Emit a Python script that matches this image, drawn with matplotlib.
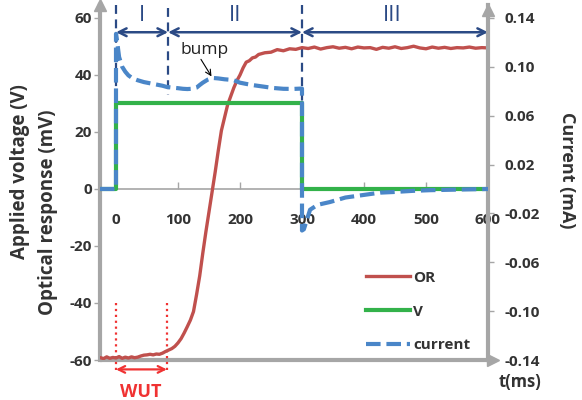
import numpy as np
import matplotlib.pyplot as plt

plt.rcParams['font.family'] = ['Open Sans', 'DejaVu Sans']

# optical response (mV)
t_or = [-25, -20, -15, -10, -5, 0, 5, 10, 15, 20, 25, 30, 35, 40, 45, 50, 55, 60, 65, 70,
        75, 80, 85, 90, 95, 100, 105, 110, 115, 120, 125, 130, 135, 140, 145, 150, 155, 160,
        165, 170, 175, 180, 185, 190, 195, 200, 205, 210, 215, 220, 225, 230, 240, 250, 260,
        270, 280, 290, 300, 310, 320, 330, 340, 350, 360, 370, 380, 390, 400, 410, 420, 430,
        440, 450, 460, 470, 480, 490, 500, 510, 520, 530, 540, 550, 560, 570, 580, 590, 600]
or_mv = [-59.2, -59.5, -58.9, -59.4, -59.1, -59.3, -58.8, -59.4, -59.0, -59.3, -58.9, -59.2,
         -59.0, -58.6, -58.3, -58.2, -58.0, -58.2, -57.9, -58.0, -57.6, -57.0, -56.5, -56.0,
         -55.2, -54.0, -52.5, -50.5, -48.3, -46.0, -43.0, -37.0, -30.5, -22.5, -15.0, -8.0,
         -1.0, 6.0, 13.5, 20.5, 25.0, 29.5, 32.5, 35.5, 38.0, 40.0, 42.5, 44.5, 45.0, 46.0,
         46.3, 47.2, 47.8, 48.0, 48.9, 48.5, 49.2, 49.0, 49.6, 49.3, 49.8, 49.1, 49.6, 49.9,
         49.4, 49.7, 49.2, 49.8, 49.5, 49.6, 49.0, 49.7, 49.4, 49.9, 49.3, 49.6, 50.1, 49.5,
         49.2, 49.8, 49.4, 49.7, 49.3, 49.6, 49.5, 49.8, 49.4, 49.6, 49.5]

# applied voltage (V)
t_v = [-26, 0, 0, 300, 300, 600]
volt = [0, 0, 30, 30, 0, 0]

# current (mA)
t_i = [-26, 0, 0, 2, 5, 10, 15, 20, 27, 35, 45, 55, 65, 75, 82, 90, 100, 108, 115, 122,
       130, 135, 140, 148, 156, 165, 175, 189, 200, 210, 221, 235, 253, 270, 286, 300,
       300, 303, 313, 325, 345, 370, 398, 426, 447, 480, 506, 550, 600]
cur = [0, 0, 0.127, 0.120, 0.108, 0.100, 0.096, 0.093, 0.0905, 0.089, 0.0875, 0.0865,
       0.0855, 0.0845, 0.0835, 0.083, 0.0825, 0.082, 0.0818, 0.082, 0.083, 0.0851, 0.087,
       0.0895, 0.0909, 0.0905, 0.0898, 0.0892, 0.087, 0.086, 0.085, 0.084, 0.0827, 0.082,
       0.0819, 0.0822, -0.034, -0.033, -0.017, -0.013, -0.0107, -0.007, -0.005, -0.003,
       -0.0025, -0.0015, -0.001, -0.0005, 0.0]

x_ticks = [0, 100, 200, 300, 400, 500, 600]
left_ticks = [-60, -40, -20, 0, 20, 40, 60]
right_ticks = [-0.14, -0.10, -0.06, -0.02, 0.02, 0.06, 0.10, 0.14]

gray = '#a6a6a6'
txt = '#333333'
navy = '#2b4a85'
red = '#c0504d'
green = '#33b24a'
blue = '#4a86c8'
wut = '#f03232'

fig = plt.figure(figsize=(5.82, 4.0), dpi=100)
ax = fig.add_axes([100/582, 40/400, 388/582, 355/400])
ax.set_xlim(-25.8, 600)
ax.set_ylim(-60, 64.56)
ax2 = ax.twinx()
ax2.set_ylim(-0.14, 0.1506)

for s in ['top', 'right']:
    ax.spines[s].set_visible(False)
for s in ['top', 'bottom', 'left']:
    ax2.spines[s].set_visible(False)

ax.spines['left'].set_color(gray)
ax.spines['left'].set_linewidth(3)
ax2.spines['right'].set_color(gray)
ax2.spines['right'].set_linewidth(3)
ax.spines['bottom'].set_position(('data', 0))
ax.spines['bottom'].set_color(gray)
ax.spines['bottom'].set_linewidth(1.2)

# bottom axis line at -60 with arrow, arrows on the vertical axes
ax.plot([0, 1], [0, 0], transform=ax.transAxes, color=gray, lw=3, clip_on=False,
        solid_capstyle='butt')
ax.plot([1.012], [0], transform=ax.transAxes, marker='>', ms=9, color=gray, clip_on=False)
ax.plot([0], [1.0], transform=ax.transAxes, marker='^', ms=9, color=gray, clip_on=False)
ax.plot([1], [0.985], transform=ax.transAxes, marker='^', ms=9, color=gray, clip_on=False)

ax.set_xticks(x_ticks)
ax.set_xticklabels([str(v) for v in x_ticks], fontsize=11, fontweight='bold', color=txt)
ax.tick_params(axis='x', direction='in', length=5, width=1, color=gray, pad=17)
ax.set_yticks(left_ticks)
ax.set_yticklabels([str(v) for v in left_ticks], fontsize=11, fontweight='bold', color=txt)
ax.tick_params(axis='y', direction='out', length=4, width=1, color=gray, pad=2)
ax2.set_yticks(right_ticks)
ax2.set_yticklabels(['%.2f' % v for v in right_ticks], fontsize=11, fontweight='bold', color=txt)
ax2.tick_params(axis='y', direction='out', length=4, width=1, color=gray, pad=8)

l_or, = ax.plot(t_or, or_mv, color=red, lw=2.4, label='OR', zorder=3)
l_v, = ax.plot(t_v, volt, color=green, lw=3, label='V', zorder=3)
l_i, = ax2.plot(t_i, cur, color=blue, lw=3, dashes=(3.5, 1.4), label='current', zorder=4)

# region markers
for x0, y0, y1 in [(0, 64.5, 0), (84, 63.5, 33), (300, 64.5, -2)]:
    ax.plot([x0, x0], [y0, y1], color=navy, lw=1.6, dashes=(4, 2.5), clip_on=False, zorder=2)
for a, b in [(0, 84), (84, 300), (300, 600)]:
    ax.annotate('', xy=(a, 55), xytext=(b, 55),
                arrowprops=dict(arrowstyle='<->', color=navy, lw=1.8, mutation_scale=14,
                                shrinkA=0, shrinkB=0), annotation_clip=False)
for x0, s in [(42, 'I'), (192, 'II'), (445, 'III')]:
    ax.text(x0, 61, s, color=navy, fontsize=16, ha='center', va='center')

ax.text(143, 48.6, 'bump', fontsize=12.5, color='#222222', ha='center', va='center')
ax.annotate('', xy=(154, 39.5), xytext=(137, 45.5),
            arrowprops=dict(arrowstyle='->', color='black', lw=0.8, shrinkA=0, shrinkB=0))

# warm-up time
for x0 in [0, 82]:
    ax.plot([x0, x0], [-40, -64.5], color=wut, lw=1.6, ls=':', clip_on=False)
ax.annotate('', xy=(0, -63.3), xytext=(82, -63.3),
            arrowprops=dict(arrowstyle='<->', color=wut, lw=1.6, mutation_scale=12,
                            shrinkA=0, shrinkB=0), annotation_clip=False)
ax.text(40, -71.3, 'WUT', color=wut, fontsize=13, fontweight='bold', ha='center', va='center',
        clip_on=False)

fig.text(20/582, 1 - 172/400, 'Applied voltage (V)', rotation=90, ha='center', va='center',
         fontsize=13.5, fontweight='bold', color=txt)
fig.text(48/582, 1 - 212/400, 'Optical response (mV)', rotation=90, ha='center', va='center',
         fontsize=13.5, fontweight='bold', color=txt)
fig.text(567/582, 1 - 170/400, 'Current (mA)', rotation=270, ha='center', va='center',
         fontsize=13, fontweight='bold', color=txt)
fig.text(520/582, 1 - 382/400, 't(ms)', ha='center', va='center', fontsize=12,
         fontweight='bold', color=txt)

leg = ax2.legend(handles=[l_or, l_v, l_i], loc='upper left', bbox_to_anchor=(358/582, 1 - 263/400),
                 bbox_transform=fig.transFigure, frameon=False, handlelength=2.9,
                 handletextpad=0.2, labelspacing=1.3, borderpad=0, prop={'weight': 'bold', 'size': 11})
for t in leg.get_texts():
    t.set_color(txt)

fig.savefig('out.png', dpi=100)
